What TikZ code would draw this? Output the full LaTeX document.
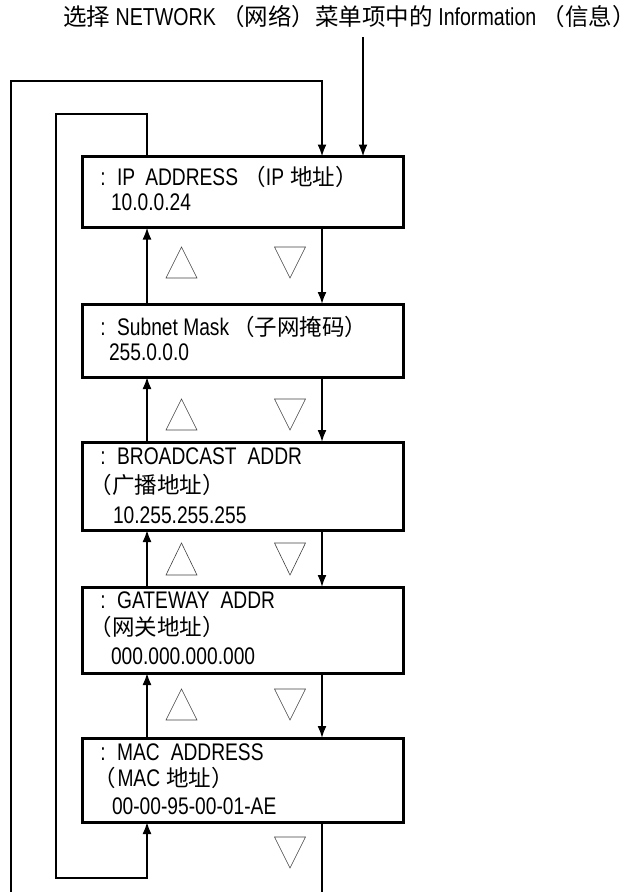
\documentclass[tikz,border=0pt]{standalone}
\usepackage{fontspec}
\setmainfont{Liberation Sans}[FakeStretch=0.8]
\newfontfamily\cjkfam{Noto Sans CJK SC}
\usetikzlibrary{arrows.meta}
\newcommand\boxfs{\fontsize{24}{26}\selectfont}
\newcommand\titlefs{\fontsize{24.5}{28}\selectfont}
\newcommand\cjt[1]{{\cjkfam\fontsize{22.5}{26}\selectfont #1}}
\newcommand\cjtop[1]{{\cjkfam\fontsize{23.5}{28}\selectfont #1}}
\tikzset{
  infobox/.style={draw, line width=3pt, minimum width=320.5pt, inner sep=0pt, outer sep=0pt},
  txt/.style={anchor=base west, inner sep=0pt, outer sep=0pt, font=\boxfs},
  conn/.style={line width=1.8pt},
  arr/.style={conn, -{Latex[length=12pt,width=9pt]}},
  tri/.style={line width=0.6pt, draw=black!75}
}
\begin{document}
\begin{tikzpicture}[x=1pt,y=-1pt]
\useasboundingbox (0,0) rectangle (640,892);
% boxes
\node[infobox, minimum height=71pt] (b1) at (243,192) {};
\node[infobox, minimum height=73pt] (b2) at (243,340.5) {};
\node[infobox, minimum height=88pt] (b3) at (243,486) {};
\node[infobox, minimum height=86pt] (b4) at (243,630) {};
\node[infobox, minimum height=84pt] (b5) at (243,780) {};
% top text
\node[anchor=base east, inner sep=0pt, font=\titlefs] (title) at (636,25) {\cjtop{选择} NETWORK \cjtop{（网络）菜单项中的} Information \cjtop{（信息）}};
% box texts
\node[txt] (t1a) at (100.3,185) {:\hspace{11.5pt}IP\hspace{10pt}ADDRESS \cjt{（}IP\hspace{6pt}\cjt{地址）}};
\node[txt] (t1b) at (111,210) {10.0.0.24};
\node[txt] (t2a) at (100.3,335) {:\hspace{11.5pt}Subnet Mask\hspace{3pt}\cjt{（子网掩码）}};
\node[txt] (t2b) at (109,360) {255.0.0.0};
\node[txt] (t3a) at (100.3,464) {:\hspace{11.5pt}BROADCAST\hspace{11pt}ADDR};
\node[txt] (t3b) at (89.6,493) {\cjt{（广播地址）}};
\node[txt] (t3c) at (113,523) {10.255.255.255};
\node[txt] (t4a) at (100.3,608) {:\hspace{11.5pt}GATEWAY\hspace{11pt}ADDR};
\node[txt] (t4b) at (89.6,635) {\cjt{（网关地址）}};
\node[txt] (t4c) at (111,664) {000.000.000.000};
\node[txt] (t5a) at (100.3,760) {:\hspace{11.5pt}MAC\hspace{11pt}ADDRESS};
\node[txt] (t5b) at (93,786) {\cjt{（}\hspace{2pt}MAC\hspace{6pt}\cjt{地址）}};
\node[txt] (t5c) at (112,814) {00-00-95-00-01-AE};
% coordinates
\coordinate (ux) at (147,0);
\coordinate (dx) at (322,0);
\coordinate (e0) at (363,37);
\coordinate (ob) at (11,892);
\coordinate (otr) at (322,81);
\coordinate (il) at (56,114);
\coordinate (ib) at (56,878);
\coordinate (db) at (322,892);
% entry and loops
\draw[arr] (e0) -- (b1.north -| e0);
\draw[arr] (ob) |- (otr) -- (b1.north -| otr);
\draw[arr] (b1.north -| ux) |- (il) -- (ib) -| (b5.south -| ux);
\draw[conn] (b5.south -| dx) -- (db);
% up / down arrows
\draw[arr] (b2.north -| ux) -- (b1.south -| ux);
\draw[arr] (b3.north -| ux) -- (b2.south -| ux);
\draw[arr] (b4.north -| ux) -- (b3.south -| ux);
\draw[arr] (b5.north -| ux) -- (b4.south -| ux);
\draw[arr] (b1.south -| dx) -- (b2.north -| dx);
\draw[arr] (b2.south -| dx) -- (b3.north -| dx);
\draw[arr] (b3.south -| dx) -- (b4.north -| dx);
\draw[arr] (b4.south -| dx) -- (b5.north -| dx);
% triangles (up: apex top; down: apex bottom)
\foreach \t/\b in {247/278, 399/430, 543/575, 689/720}{
  \draw[tri] (166,\b) -- (197,\b) -- (181.5,\t) -- cycle;
  \draw[tri] (274.5,\t) -- (305.5,\t) -- (290,\b) -- cycle;
}
\draw[tri] (274.5,837) -- (305.5,837) -- (290,868) -- cycle;
\end{tikzpicture}
\end{document}
